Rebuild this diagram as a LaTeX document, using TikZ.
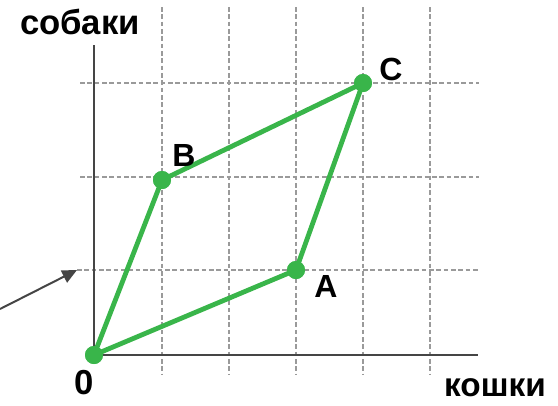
\documentclass[tikz,border=0pt]{standalone}
\usepackage{fontspec}
\setmainfont{Liberation Sans}
\usetikzlibrary{arrows.meta}
\definecolor{vecgreen}{HTML}{39B54A}
\definecolor{axisgray}{HTML}{454545}
\definecolor{gridgray}{HTML}{9A9A9A}

\begin{document}
\begin{tikzpicture}[x=0.75pt, y=-0.75pt, font=\bfseries\fontsize{24}{28}\selectfont,
    gridline/.style={draw=gridgray, line width=0.9pt, dash pattern=on 3.5pt off 2pt},
    axis/.style={draw=axisgray, line width=1.5pt},
    side/.style={draw=vecgreen, line width=3.6pt},
    point/.style={circle, fill=vecgreen, inner sep=0pt, minimum size=13.5pt},
    lbl/.style={anchor=base, inner sep=0pt}
]
\useasboundingbox (0,0) rectangle (558,405);

% grid
\draw[gridline] (162,7) -- (162,375);
\draw[gridline] (229,7) -- (229,375);
\draw[gridline] (296,7) -- (296,375);
\draw[gridline] (363,7) -- (363,375);
\draw[gridline] (430,7) -- (430,375);
\draw[gridline] (80,83) -- (479,83);
\draw[gridline] (80,177) -- (479,177);
\draw[gridline] (77,270) -- (479,270);

% axes
\coordinate (ytop) at (94,45);
\coordinate (xend) at (478,355);
\node[point] (O) at (94,355) {};
\draw[axis] (ytop) -- (O.center) -- (xend);

% pointer
\coordinate (ptrstart) at (0,309);
\coordinate (ptrend) at (77,270);
\draw[axis, -{Triangle[length=11pt, width=10pt]}] (ptrstart) -- (ptrend);

% parallelogram
\node[point] (A) at (296,270) {};
\node[point] (B) at (162,180) {};
\node[point] (C) at (363,83) {};
\draw[side, line join=round] (O.center) -- (A.center) -- (C.center) -- (B.center) -- cycle;
\node[point] at (O) {};
\node[point] at (A) {};
\node[point] at (B) {};
\node[point] at (C) {};

% labels
\node[lbl] (labA) at (326,297) {A};
\node[lbl] (labB) at (184,166) {B};
\node[lbl] (labC) at (391,80) {C};
\node[lbl, font=\bfseries\fontsize{26}{30}\selectfont] (lab0) at (84,394) {0};
\node[lbl, font=\bfseries\fontsize{26}{30}\selectfont] (ylab) at (80,34) {собаки};
\node[lbl, font=\bfseries\fontsize{25}{30}\selectfont] (xlab) at (495,396) {кошки};
\end{tikzpicture}
\end{document}
